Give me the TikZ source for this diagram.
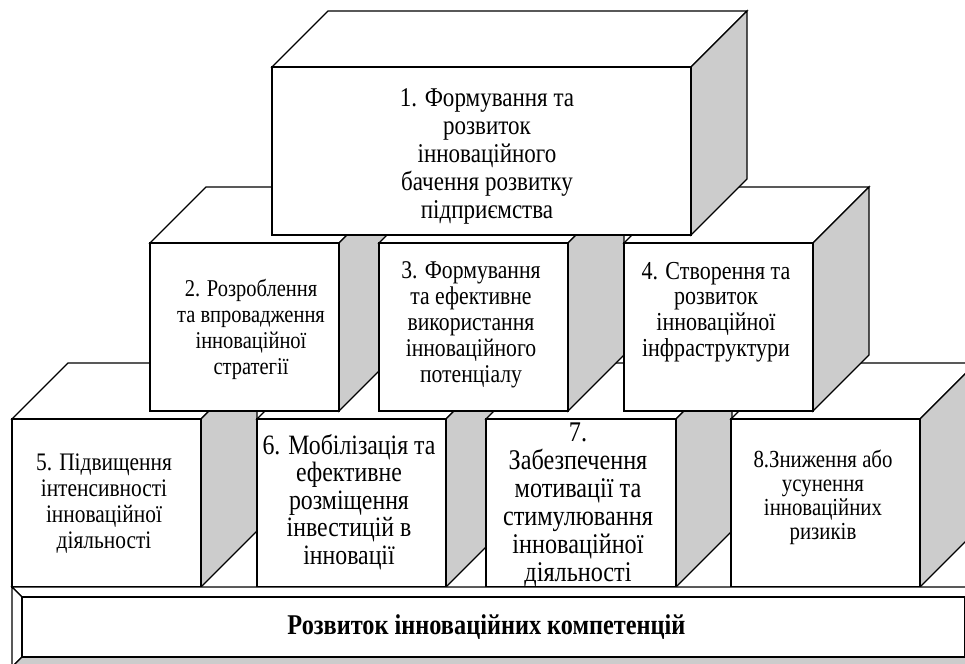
\documentclass[tikz,border=0pt]{standalone}
\usepackage{fontspec}
\setmainfont{Liberation Serif}[FakeStretch=0.85]
\definecolor{sidegray}{RGB}{204,204,204}
\tikzset{
  edge/.style={draw=black, line width=1.3pt, line join=miter},
  face/.style={edge, fill=white},
  side/.style={edge, fill=sidegray},
  frontface/.style={face, rectangle, inner sep=0pt},
  txt/.style={align=center, inner sep=0pt},
  fs/.style 2 args={font=\fontsize{#1}{#2}\selectfont},
  txtb/.style={align=center, inner sep=0pt, font=\fontsize{28.6}{30}\selectfont\bfseries},
}
% #1 name, #2 x1, #3 y1, #4 x2, #5 y2 (front face, pixel coords)
\newcommand\cubebox[5]{%
  \path[face] (#2,#3) -- ++(56,-56) -- ({#4+56},{#3-56}) -- (#4,#3) -- cycle;
  \path[side] (#4,#3) -- ({#4+56},{#3-56}) -- ({#4+56},{#5-56}) -- (#4,#5) -- cycle;
  \node[frontface, minimum width={(#4-#2)*1pt}, minimum height={(#5-#3)*1pt}] (#1) at ({(#2+#4)/2},{(#3+#5)/2}) {};
}
\begin{document}
\begin{tikzpicture}[x=1pt,y=-1pt]
\useasboundingbox (0,0) rectangle (965,663);
\clip (0,0) rectangle (965,663);
% row 3
\cubebox{b5}{12}{419}{201}{587}
\cubebox{b6}{257}{419}{446}{587}
\cubebox{b7}{486}{419}{676}{587}
\cubebox{b8}{731}{419}{920}{587}
% row 2
\cubebox{b2}{150}{243}{339}{411}
\cubebox{b3}{379}{243}{568}{411}
\cubebox{b4}{624}{243}{813}{411}
% row 1
\cubebox{b1}{272}{67}{691}{235}
% texts
\node[txt, fs={27.1}{28}] (t1) at (487,156) {1. Формування та\\розвиток\\інноваційного\\бачення розвитку\\підприємства};
\node[txt, fs={24.1}{26}] (t2) at (251,329) {2. Розроблення\\та впровадження\\інноваційної\\стратегії};
\node[txt, fs={25.5}{26}] (t3) at (471,325) {3. Формування\\та ефективне\\використання\\інноваційного\\потенціалу};
\node[txt, fs={25.9}{25.7}] (t4) at (716,312) {4. Створення та\\розвиток\\інноваційної\\інфраструктури};
\node[txt, fs={25.2}{26}] (t5) at (104,504) {5. Підвищення\\інтенсивності\\інноваційної\\діяльності};
\node[txt, fs={28}{27.5}] (t6) at (349,502) {6. Мобілізація та\\ефективне\\розміщення\\інвестицій в\\інновації};
\node[txt, fs={28.5}{28}] (t7) at (578,504.5) {7.\\Забезпечення\\мотивації та\\стимулювання\\інноваційної\\діяльності};
\node[txt, fs={24.5}{24}] (t8) at (823,497.5) {8.Зниження або\\усунення\\інноваційних\\ризиків};
% bottom bar (bevel)
\path[face] (12,587) -- (975,587) -- (965,597) -- (22,597) -- cycle;
\path[face] (12,587) -- (22,597) -- (22,657) -- (12,667) -- cycle;
\path[side] (12,667) -- (22,657) -- (965,657) -- (975,667) -- cycle;
\path[side] (975,587) -- (965,597) -- (965,657) -- (975,667) -- cycle;
\node[frontface, minimum width=943pt, minimum height=60pt] (bar) at (493.5,627) {};
\node[txtb] (tb) at (486.5,627) {Розвиток інноваційних компетенцій};
\end{tikzpicture}
\end{document}
